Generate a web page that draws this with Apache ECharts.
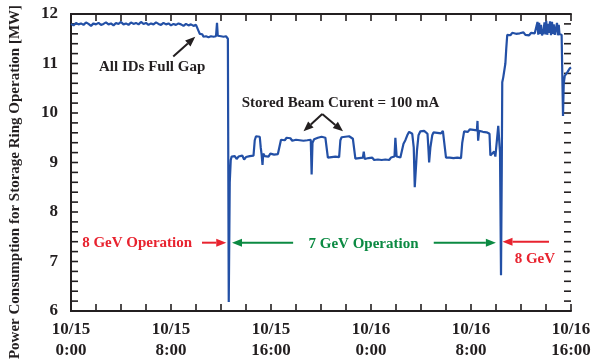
<!DOCTYPE html>
<html>
<head>
<meta charset="utf-8">
<script src="https://cdn.jsdelivr.net/npm/echarts@6/dist/echarts.min.js"></script>
<style>html,body{margin:0;padding:0;background:#fff;}#c{width:595px;height:361px;}</style>
</head>
<body>
<div id="c"></div>
<script>
// ---- data: [hour since 10/15 0:00, MW] ----
const before8GeV = [
 [0.0,11.80],[0.2,11.77],[0.4,11.82],[0.6,11.79],[0.8,11.81],[1.0,11.78],[1.2,11.83],[1.4,11.80],[1.6,11.76],[1.8,11.81],
 [2.0,11.79],[2.2,11.82],[2.4,11.78],[2.6,11.80],[2.8,11.83],[3.0,11.79],[3.2,11.81],[3.4,11.77],[3.6,11.82],[3.8,11.80],
 [4.0,11.84],[4.2,11.79],[4.4,11.81],[4.6,11.78],[4.8,11.83],[5.0,11.80],[5.2,11.82],[5.4,11.79],[5.6,11.84],[5.8,11.80],
 [6.0,11.82],[6.2,11.78],[6.4,11.81],[6.6,11.79],[6.8,11.83],[7.0,11.80],[7.2,11.78],[7.4,11.82],[7.6,11.79],[7.8,11.81],
 [8.0,11.77],[8.2,11.80],[8.4,11.78],[8.6,11.81],[8.8,11.79],[9.0,11.76],[9.2,11.80],[9.4,11.77],[9.6,11.79],[9.8,11.76],[10.0,11.78]
];
const fullGap8GeV = [
 [10.1,11.74],[10.2,11.66],[10.3,11.60],[10.4,11.56],[10.5,11.59],[10.6,11.54],[10.7,11.57],[10.8,11.55],[10.9,11.58],[11.0,11.53],
 [11.1,11.57],[11.2,11.55],[11.3,11.59],[11.4,11.54],[11.5,11.57],[11.6,11.55],[11.68,11.82],[11.74,11.56],[11.8,11.53],[11.9,11.57],
 [12.0,11.55],[12.1,11.58],[12.2,11.54],[12.3,11.56],[12.4,11.55],[12.5,11.53],[12.55,11.50],[12.62,6.18],[12.7,8.60],[12.78,9.05],[12.85,9.12]
];
const run7GeV = [
 [12.95,9.08],[13.1,9.13],[13.25,9.07],[13.4,9.12],[13.55,9.09],[13.7,9.14],[13.85,9.06],[14.0,9.11],[14.15,9.08],[14.3,9.13],
 [14.45,9.10],[14.6,9.14],[14.7,9.45],[14.8,9.53],[14.95,9.49],[15.1,9.52],[15.18,9.30],[15.25,9.16],[15.32,8.95],[15.38,9.18],
 [15.5,9.13],[15.65,9.17],[15.8,9.12],[15.95,9.18],[16.1,9.14],[16.25,9.16],[16.4,9.12],[16.55,9.17],[16.7,9.14],[16.8,9.46],
 [16.95,9.49],[17.1,9.45],[17.25,9.50],[17.4,9.46],[17.55,9.49],[17.7,9.44],[17.85,9.48],[18.0,9.46],[18.15,9.50],[18.3,9.45],
 [18.45,9.48],[18.6,9.44],[18.75,9.47],[18.9,9.45],[19.05,9.49],[19.18,9.46],[19.25,8.76],[19.32,9.40],[19.45,9.47],[19.6,9.44],
 [19.75,9.50],[19.9,9.48],[20.05,9.52],[20.2,9.56],[20.35,9.50],[20.48,9.47],[20.55,9.10],[20.7,9.07],[20.85,9.11],[21.0,9.08],
 [21.15,9.12],[21.3,9.09],[21.45,9.11],[21.55,9.45],[21.65,9.51],[21.8,9.48],[21.95,9.52],[22.1,9.49],[22.25,9.53],[22.4,9.50],
 [22.55,9.48],[22.68,9.46],[22.75,9.08],[22.9,9.05],[23.05,9.09],[23.2,9.06],[23.35,9.10],[23.42,9.22],[23.5,9.07],[23.65,9.04],
 [23.8,9.09],[23.95,9.06],[24.1,9.10],[24.25,9.05],[24.4,9.08],[24.55,9.06],[24.7,9.10],[24.85,9.05],[25.0,9.09],[25.15,9.06],
 [25.3,9.08],[25.45,9.05],[25.6,9.10],[25.75,9.07],[25.88,9.12],[25.95,9.50],[26.05,9.12],[26.2,9.08],[26.35,9.10],[26.5,9.12],
 [26.6,9.38],[26.75,9.45],[26.9,9.55],[27.05,9.62],[27.15,9.66],[27.3,9.58],[27.42,9.30],[27.5,8.50],[27.58,8.52],[27.68,9.25],
 [27.8,9.55],[27.95,9.63],[28.1,9.60],[28.25,9.64],[28.4,9.61],[28.52,9.58],[28.6,9.25],[28.65,9.00],[28.75,9.30],[28.9,9.55],
 [29.0,9.61],[29.15,9.64],[29.3,9.60],[29.45,9.63],[29.6,9.59],[29.75,9.64],[29.9,9.60],[30.0,9.10],[30.15,9.07],[30.3,9.10],
 [30.45,9.06],[30.6,9.09],[30.75,9.05],[30.9,9.10],[31.05,9.07],[31.2,9.09],[31.3,9.40],[31.45,9.63],[31.6,9.66],[31.75,9.62],
 [31.9,9.67],[32.05,9.63],[32.2,9.66],[32.35,9.62],[32.47,9.65],[32.52,9.84],[32.57,9.44],[32.65,9.64],[32.8,9.66],[32.95,9.62],
 [33.1,9.65],[33.25,9.61],[33.4,9.64],[33.48,9.58],[33.55,9.14],[33.7,9.10],[33.85,9.22],[33.95,9.12],[34.08,9.15],[34.18,9.74],
 [34.25,9.76],[34.32,9.20]
];
const switchTo8GeV = [
 [34.4,6.72],[34.46,8.80],[34.5,10.62],[34.58,10.72],[34.65,10.68],[34.75,11.00],[34.82,11.30],[34.9,11.58]
];
const after8GeV = [
 [35.0,11.61],[35.15,11.57],[35.3,11.62],[35.45,11.58],[35.6,11.60],[35.75,11.56],[35.9,11.61],[36.05,11.59],[36.2,11.63],[36.35,11.58],
 [36.5,11.60],[36.65,11.57],[36.8,11.62],[36.95,11.58],[37.1,11.61],[37.25,11.59],[37.32,11.84],[37.38,11.58],[37.45,11.82],[37.52,11.60],
 [37.6,11.78],[37.68,11.57],[37.78,11.62],[37.88,11.83],[37.95,11.59],[38.02,11.86],[38.1,11.58],[38.18,11.80],[38.25,11.62],[38.32,11.85],
 [38.4,11.57],[38.48,11.84],[38.55,11.60],[38.62,11.79],[38.7,11.58],[38.8,11.61],[38.88,11.82],[38.95,11.57],[39.02,11.78],[39.08,11.59],
 [39.15,11.60],[39.25,11.58],[39.3,11.55],[39.36,9.94],[39.42,10.60],[39.5,10.75],[39.6,10.73],[39.7,10.82],[39.8,10.86],[39.9,10.90],[40.0,10.92]
];
const xTickLabels = ['10/15\n0:00','10/15\n8:00','10/15\n16:00','10/16\n0:00','10/16\n8:00','10/16\n16:00'];
const yTickLabels = ['6','7','8','9','10','11','12'];

// ---- annotations (data coordinates) ----
const RED = '#e8232f', GREEN = '#0b8a42', INK = '#231f20';
const notes = [
 {text:'All IDs Full Gap', at:[6.49,10.92], color:INK},
 {text:'Stored Beam Curent = 100 mA', at:[21.56,10.20], color:INK},
 {text:'8 GeV Operation', at:[5.29,7.38], color:RED},
 {text:'7 GeV Operation', at:[23.4,7.36], color:GREEN},
 {text:'8 GeV', at:[37.11,7.05], color:RED}
];
const arrows = [
 {from:[8.18,11.14], to:[9.94,11.54], color:INK},
 {from:[20.1,9.98], to:[18.6,9.63], color:INK},
 {from:[20.1,9.98], to:[21.76,9.63], color:INK},
 {from:[10.48,7.38], to:[12.42,7.38], color:RED},
 {from:[17.77,7.38], to:[12.88,7.38], color:GREEN},
 {from:[29.02,7.38], to:[33.99,7.38], color:GREEN},
 {from:[38.24,7.40], to:[34.52,7.40], color:RED}
];
const X_MIN = 0, X_MAX = 40, X_MAJOR = 8, X_MINOR = 2;
const Y_MIN = 6, Y_MAX = 12, Y_MAJOR = 1, Y_MINOR = 0.2;

const series = [].concat(before8GeV, fullGap8GeV, run7GeV, switchTo8GeV, after8GeV);
const FONT = 'Liberation Serif';

function ax(pos, extra) {
  return Object.assign({
    type:'value', position:pos,
    axisLine:{show:true, lineStyle:{color:INK, width:2}},
    axisTick:{show:false}, minorTick:{show:false},
    splitLine:{show:false}
  }, extra);
}

const chart = echarts.init(document.getElementById('c'));
chart.setOption({
  animation:false,
  grid:{left:71, right:24, top:14, bottom:46},
  xAxis:[
    ax('bottom', {min:X_MIN, max:X_MAX, interval:X_MAJOR,
      axisLabel:{show:true, margin:8, fontFamily:FONT, fontWeight:'bold', fontSize:17, lineHeight:21, color:INK,
        formatter:v => xTickLabels[Math.round(v/X_MAJOR)] || ''}}),
    ax('top', {min:X_MIN, max:X_MAX, interval:X_MAJOR, axisLabel:{show:false}})
  ],
  yAxis:[
    ax('left', {min:Y_MIN, max:Y_MAX, interval:Y_MAJOR,
      axisLabel:{show:true, margin:13, fontFamily:FONT, fontWeight:'bold', fontSize:17, color:INK,
        formatter:v => yTickLabels[Math.round(v-Y_MIN)] || ''}}),
    ax('right', {min:Y_MIN, max:Y_MAX, interval:Y_MAJOR, axisLabel:{show:false}})
  ],
  series:[{
    type:'line', data:series,
    showSymbol:false, symbol:'none',
    lineStyle:{color:'#2350a6', width:2.2}
  }]
});

const toPx = d => chart.convertToPixel({xAxisIndex:0, yAxisIndex:0}, d);
const graphics = [];
// inward ticks on all four sides, placed through the axis scales
const TL = 7;
const corner0 = toPx([X_MIN, Y_MIN]), corner1 = toPx([X_MAX, Y_MAX]);
const nx = Math.round((X_MAX - X_MIN)/X_MINOR), ny = Math.round((Y_MAX - Y_MIN)/Y_MINOR);
for (let i = 0; i <= nx; i++) {
  const px = toPx([X_MIN + i*X_MINOR, Y_MIN])[0];
  graphics.push({type:'line', silent:true, shape:{x1:px, y1:corner0[1], x2:px, y2:corner0[1]-TL}, style:{stroke:INK, lineWidth:1.6}});
  graphics.push({type:'line', silent:true, shape:{x1:px, y1:corner1[1], x2:px, y2:corner1[1]+TL}, style:{stroke:INK, lineWidth:1.6}});
}
for (let j = 0; j <= ny; j++) {
  const py = toPx([X_MIN, Y_MIN + j*Y_MINOR])[1];
  graphics.push({type:'line', silent:true, shape:{x1:corner0[0], y1:py, x2:corner0[0]+TL, y2:py}, style:{stroke:INK, lineWidth:1.6}});
  graphics.push({type:'line', silent:true, shape:{x1:corner1[0], y1:py, x2:corner1[0]-TL, y2:py}, style:{stroke:INK, lineWidth:1.6}});
}
arrows.forEach(a => {
  const p0 = toPx(a.from), p1 = toPx(a.to);
  const dx = p1[0]-p0[0], dy = p1[1]-p0[1], L = Math.hypot(dx, dy);
  const ux = dx/L, uy = dy/L, hl = 10, hw = 4;
  const bx = p1[0]-ux*hl, by = p1[1]-uy*hl;
  graphics.push({type:'line', silent:true, shape:{x1:p0[0], y1:p0[1], x2:bx, y2:by},
    style:{stroke:a.color, lineWidth:2}});
  graphics.push({type:'polygon', silent:true,
    shape:{points:[[p1[0],p1[1]],[bx-uy*hw, by+ux*hw],[bx+uy*hw, by-ux*hw]]},
    style:{fill:a.color}});
});
notes.forEach(n => {
  const p = toPx(n.at);
  graphics.push({type:'text', x:p[0], y:p[1], silent:true,
    style:{text:n.text, fill:n.color, fontFamily:FONT, fontWeight:'bold', fontSize:15, align:'center', verticalAlign:'middle'}});
});
graphics.push({type:'text', x:15, y:182, rotation:Math.PI/2, silent:true,
  style:{text:'Power Consumption for Storage Ring Operation [MW]', fill:INK, fontFamily:FONT, fontWeight:'bold', fontSize:15,
    align:'center', verticalAlign:'middle'}});
chart.setOption({graphic:graphics});
</script>
</body>
</html>
